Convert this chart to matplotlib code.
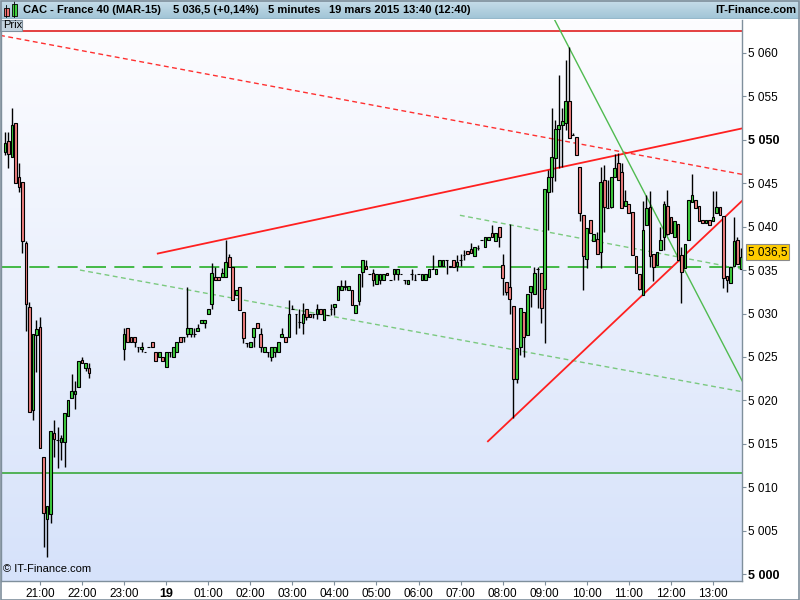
import numpy as np
import matplotlib.pyplot as plt
from matplotlib.patches import Rectangle
from matplotlib.transforms import blended_transform_factory

plt.rcParams['font.family'] = ['Liberation Sans', 'DejaVu Sans']

# --- 5 minute bars, evening session of 18 mars (20:10 -> 22:10)
s1_start = "18 20:10"
s1_open = [5048.6, 5049.8, 5048.0, 5051.9, 5045.7, 5045.1, 5038.1, 5030.7, 5018.9, 5027.5, 5028.5, 5013.5,
           5006.4, 5006.9, 5016.2, 5015.5, 5015.2, 5015.2, 5018.2, 5020.3, 5020.7, 5021.5, 5024.7, 5023.7, 5023.7]
s1_high = [5050.9, 5050.9, 5053.6, 5051.9, 5047.3, 5045.1, 5038.3, 5031.3, 5027.7, 5029.3, 5029.6, 5013.5,
           5007.9, 5016.5, 5017.7, 5017.0, 5016.0, 5018.5, 5020.1, 5023.0, 5022.2, 5024.5, 5025.0, 5024.3, 5024.3]
s1_low = [5048.2, 5046.7, 5048.0, 5045.0, 5044.0, 5037.0, 5028.0, 5018.7, 5017.7, 5023.3, 5014.5, 5003.1,
          5002.0, 5005.9, 5013.5, 5012.2, 5013.2, 5012.4, 5018.2, 5020.3, 5019.0, 5021.5, 5024.3, 5023.4, 5022.6]
s1_close = [5049.6, 5048.3, 5051.7, 5045.0, 5044.6, 5038.3, 5031.1, 5018.7, 5027.7, 5028.2, 5014.5, 5007.1,
            5007.9, 5016.5, 5015.6, 5015.5, 5015.7, 5018.5, 5020.1, 5021.1, 5021.1, 5024.5, 5024.3, 5024.3, 5023.1]

# --- 5 minute bars from 23:00 to 19 mars 13:40, one row per hour
s2_start = "18 23:00"
s2_open = [
    5025.9, 5028.3, 5027.3, 5027.3, 5026.1, 5025.9, 5025.6, 5026.1, 5026.7, 5025.6, 5025.0, 5025.0,
    5023.9, 5025.6, 5025.0, 5025.6, 5027.3, 5027.3, 5027.7, 5027.7, 5027.7, 5028.0, 5028.9, 5028.9,
    5029.9, 5031.1, 5034.2, 5034.2, 5034.2, 5034.2, 5036.5, 5035.3, 5032.1, 5033.1, 5030.2, 5026.6,
    5026.1, 5027.3, 5028.9, 5027.7, 5025.6, 5025.6, 5025.0, 5025.6, 5025.6, 5027.3, 5027.3, 5027.3,
    5030.5, 5029.9, 5029.0, 5028.9, 5030.5, 5029.9, 5029.9, 5029.9, 5030.5, 5029.3, 5029.8, 5030.5,
    5030.7, 5031.6, 5032.7, 5033.0, 5032.7, 5032.7, 5030.1, 5031.4, 5034.8, 5035.5, 5034.5, 5034.7,
    5033.4, 5033.9, 5033.9, 5034.7, 5033.9, 5034.5, 5034.5, 5034.5, 5033.9, 5033.4, 5034.5, 5033.9,
    5034.5, 5033.9, 5033.9, 5034.2, 5035.1, 5034.5, 5035.5, 5035.5, 5036.2, 5035.5, 5036.2, 5035.5,
    5036.2, 5036.7, 5037.2, 5037.4, 5036.6, 5037.5, 5038.4, 5037.7, 5038.4, 5039.3, 5038.3, 5039.9,
    5035.6, 5033.6, 5033.0, 5030.9, 5022.5, 5026.2, 5030.2, 5027.5, 5032.5, 5032.2, 5035.1, 5034.7,
    5032.8, 5044.0, 5045.7, 5047.9, 5051.2, 5051.7, 5051.9, 5054.4, 5050.5, 5050.3, 5046.8, 5041.3,
    5036.3, 5040.8, 5038.3, 5038.6, 5037.1, 5045.4, 5042.1, 5042.3, 5045.7, 5047.3, 5046.3, 5042.4,
    5042.6, 5041.7, 5036.6, 5034.6, 5032.1, 5040.2, 5042.3, 5036.9, 5035.6, 5037.3, 5038.8, 5042.4,
    5041.1, 5038.8, 5040.3, 5036.7, 5035.2, 5038.5, 5042.8, 5043.1, 5042.4, 5040.8, 5040.4, 5040.8,
    5040.6, 5041.6, 5042.3, 5041.2, 5034.3, 5033.5, 5035.5, 5038.5, 5035.1]
s2_high = [
    5028.3, 5028.3, 5027.3, 5027.3, 5026.1, 5026.7, 5025.6, 5026.1, 5026.7, 5025.6, 5025.6, 5025.0,
    5025.6, 5025.6, 5026.1, 5026.7, 5027.3, 5027.3, 5033.1, 5028.3, 5028.3, 5028.8, 5029.3, 5029.3,
    5030.5, 5035.8, 5035.3, 5034.2, 5035.2, 5038.5, 5036.9, 5035.3, 5032.7, 5033.1, 5030.2, 5026.6,
    5026.7, 5028.3, 5028.9, 5028.3, 5026.1, 5025.6, 5026.1, 5026.1, 5026.7, 5028.3, 5027.3, 5031.6,
    5031.0, 5029.9, 5030.5, 5031.2, 5030.5, 5029.9, 5029.9, 5031.1, 5030.5, 5030.5, 5029.8, 5031.1,
    5031.1, 5033.2, 5033.9, 5033.9, 5033.2, 5032.7, 5031.0, 5034.5, 5036.2, 5036.2, 5034.5, 5035.1,
    5034.5, 5034.5, 5034.5, 5034.7, 5033.9, 5035.1, 5035.1, 5034.5, 5033.9, 5033.9, 5035.1, 5034.5,
    5034.5, 5034.5, 5034.5, 5035.1, 5036.7, 5035.1, 5036.2, 5036.2, 5036.2, 5035.5, 5036.2, 5036.7,
    5036.9, 5037.3, 5037.2, 5038.1, 5037.7, 5037.9, 5038.4, 5038.8, 5038.8, 5040.2, 5039.3, 5039.9,
    5036.9, 5033.6, 5040.3, 5030.9, 5026.0, 5030.6, 5030.2, 5032.2, 5033.2, 5035.4, 5035.4, 5034.7,
    5044.3, 5046.5, 5053.6, 5052.3, 5057.4, 5053.6, 5059.2, 5060.7, 5050.8, 5050.3, 5046.8, 5041.3,
    5039.8, 5040.8, 5039.1, 5039.4, 5046.8, 5047.1, 5045.4, 5045.7, 5048.3, 5048.5, 5047.3, 5044.2,
    5042.6, 5041.7, 5036.6, 5034.6, 5043.0, 5043.6, 5044.1, 5036.9, 5037.1, 5040.0, 5042.9, 5044.2,
    5041.1, 5040.6, 5040.3, 5037.7, 5038.0, 5043.1, 5046.1, 5043.1, 5042.4, 5040.8, 5040.8, 5040.8,
    5044.1, 5044.1, 5042.3, 5041.2, 5034.3, 5035.4, 5041.1, 5038.8, 5037.5]
s2_low = [
    5024.7, 5026.7, 5026.7, 5026.2, 5025.6, 5025.6, 5025.6, 5026.1, 5026.1, 5024.5, 5025.0, 5024.5,
    5023.9, 5025.0, 5025.0, 5025.6, 5026.7, 5026.7, 5027.3, 5027.3, 5027.3, 5028.0, 5028.9, 5028.3,
    5029.9, 5030.5, 5033.8, 5033.8, 5034.2, 5034.2, 5035.3, 5031.6, 5032.1, 5030.4, 5026.6, 5026.1,
    5026.1, 5026.1, 5028.3, 5025.6, 5025.6, 5025.0, 5024.5, 5025.0, 5025.6, 5027.3, 5026.7, 5027.3,
    5030.5, 5027.7, 5028.3, 5027.7, 5029.3, 5029.6, 5029.5, 5029.4, 5030.0, 5029.3, 5029.8, 5029.8,
    5029.8, 5031.6, 5032.7, 5032.7, 5032.7, 5031.0, 5030.1, 5031.0, 5033.0, 5035.1, 5034.5, 5033.2,
    5033.4, 5033.4, 5033.9, 5034.4, 5033.9, 5033.9, 5033.9, 5034.5, 5033.4, 5033.4, 5033.9, 5033.9,
    5034.5, 5033.9, 5033.9, 5034.2, 5035.1, 5034.5, 5035.5, 5035.5, 5034.5, 5035.3, 5035.4, 5034.9,
    5035.5, 5036.1, 5036.9, 5037.0, 5036.6, 5037.3, 5038.4, 5037.7, 5038.4, 5038.8, 5038.3, 5037.7,
    5032.1, 5032.1, 5030.0, 5018.0, 5022.0, 5025.2, 5025.0, 5027.5, 5030.8, 5032.2, 5030.6, 5028.9,
    5026.6, 5039.6, 5044.0, 5045.2, 5046.7, 5046.9, 5051.1, 5050.2, 5050.5, 5048.2, 5040.6, 5032.7,
    5035.2, 5039.3, 5038.3, 5036.9, 5035.2, 5039.4, 5042.1, 5042.1, 5045.7, 5045.4, 5042.1, 5042.4,
    5041.6, 5036.7, 5034.7, 5032.7, 5032.1, 5040.2, 5035.4, 5033.7, 5035.6, 5037.3, 5037.3, 5039.0,
    5039.3, 5038.8, 5036.2, 5031.2, 5035.2, 5038.5, 5042.8, 5042.1, 5040.6, 5040.4, 5040.4, 5040.2,
    5040.6, 5041.6, 5041.3, 5032.9, 5032.5, 5033.5, 5035.5, 5035.7, 5035.1]
s2_close = [
    5027.7, 5026.7, 5026.7, 5026.7, 5026.1, 5026.1, 5025.6, 5026.1, 5026.1, 5024.5, 5025.6, 5024.5,
    5025.6, 5025.6, 5026.1, 5026.7, 5026.7, 5027.3, 5028.3, 5028.3, 5027.7, 5028.3, 5029.3, 5029.3,
    5030.5, 5034.7, 5033.8, 5033.8, 5034.7, 5035.9, 5035.3, 5031.6, 5032.7, 5030.4, 5027.2, 5026.6,
    5026.7, 5028.3, 5028.3, 5026.1, 5026.1, 5025.6, 5026.1, 5026.1, 5026.7, 5027.7, 5026.7, 5029.9,
    5030.5, 5029.9, 5029.0, 5029.9, 5029.6, 5029.6, 5029.9, 5030.5, 5030.0, 5030.5, 5029.8, 5030.5,
    5031.1, 5033.2, 5033.2, 5033.2, 5033.2, 5031.0, 5031.0, 5034.5, 5036.2, 5035.1, 5034.5, 5033.9,
    5034.5, 5034.5, 5034.5, 5034.4, 5033.9, 5035.1, 5035.1, 5034.5, 5033.9, 5033.9, 5034.5, 5033.9,
    5034.5, 5034.5, 5034.5, 5035.1, 5035.1, 5035.1, 5036.2, 5036.2, 5036.2, 5035.3, 5035.4, 5035.9,
    5036.2, 5036.7, 5036.9, 5037.0, 5037.7, 5037.5, 5038.4, 5038.8, 5038.8, 5038.8, 5039.3, 5038.8,
    5034.1, 5032.5, 5031.7, 5022.5, 5026.0, 5030.6, 5027.3, 5032.2, 5033.2, 5034.7, 5035.1, 5030.6,
    5044.3, 5045.7, 5048.0, 5051.2, 5051.7, 5052.2, 5054.4, 5050.2, 5050.5, 5048.2, 5041.6, 5036.6,
    5039.8, 5039.3, 5039.1, 5036.9, 5045.1, 5042.3, 5042.1, 5045.7, 5046.7, 5045.4, 5042.1, 5042.9,
    5041.6, 5036.7, 5034.7, 5032.8, 5039.6, 5042.1, 5036.6, 5035.4, 5037.1, 5038.5, 5042.6, 5039.2,
    5039.3, 5040.6, 5036.2, 5034.8, 5038.0, 5043.1, 5043.6, 5042.1, 5040.6, 5040.4, 5040.8, 5040.2,
    5041.1, 5042.3, 5041.3, 5034.1, 5033.8, 5035.4, 5038.3, 5035.7, 5036.5]

# drawn objects: (start, price, end, price)
red_dash_line = ("18 20:03", 5062.0, "19 13:42", 5046.0)
red_upper_line = ("18 23:48", 5036.9, "19 13:42", 5051.3)
red_lower_line = ("19 07:39", 5015.3, "19 13:42", 5043.0)
green_steep_line = ("19 09:14", 5063.8, "19 13:42", 5022.2)
green_dash_upper = ("19 06:59", 5041.3, "19 13:42", 5035.1)
green_dash_lower = ("18 21:57", 5035.0, "19 13:42", 5021.0)
green_level = 5035.3
green_support = 5011.7
red_top_level = 5062.5
last_price = "5 036,5"
last_value = 5036.5

hour_labels = ["21:00", "22:00", "23:00", "19", "01:00", "02:00", "03:00", "04:00", "05:00",
               "06:00", "07:00", "08:00", "09:00", "10:00", "11:00", "12:00", "13:00"]
price_ticks = [5000, 5005, 5010, 5015, 5020, 5025, 5030, 5035, 5040, 5045, 5050, 5055, 5060]


def hrs(stamp):
    d, hm = stamp.split()
    hh, mm = hm.split(':')
    return (int(d) - 18) * 24 + int(hh) - 21 + int(mm) / 60


opens = np.array(s1_open + s2_open)
highs = np.array(s1_high + s2_high)
lows = np.array(s1_low + s2_low)
closes = np.array(s1_close + s2_close)
times = np.concatenate([hrs(s1_start) + np.arange(len(s1_open)) / 12,
                        hrs(s2_start) + np.arange(len(s2_open)) / 12])

W, H = 800, 600
fig = plt.figure(figsize=(8, 6), dpi=100)
fig.patch.set_facecolor('white')

# header band
hdr = fig.add_axes([0, 1 - 19 / H, 1, 19 / H])
grad = np.linspace(0, 1, 50).reshape(-1, 1)
top_c = np.array([200, 222, 234]) / 255
bot_c = np.array([160, 196, 214]) / 255
hdr.imshow(top_c + (bot_c - top_c) * grad[:, :, None], aspect='auto', extent=[0, 1, 0, 1])
hdr.set_xlim(0, 1)
hdr.set_ylim(0, 1)
hdr.axis('off')
hdr.axhline(0.02, color='#6f8a9a', lw=1)
# little candle icon
hdr.plot([6 / W, 6 / W], [0.1, 0.72], color='black', lw=0.6)
hdr.add_patch(Rectangle((3.5 / W, 0.18), 5 / W, 0.4, fc='#f07070', ec='black', lw=0.6))
hdr.plot([14 / W, 14 / W], [0.1, 0.95], color='black', lw=0.6)
hdr.add_patch(Rectangle((11.5 / W, 0.18), 5 / W, 0.62, fc='#40d040', ec='black', lw=0.6))
for xpix, txt in [(23, "CAC - France 40 (MAR-15)"), (173, "5 036,5 (+0,14%)"),
                  (268, "5 minutes"), (329, "19 mars 2015"), (403, "13:40 (12:40)")]:
    hdr.text(xpix / W, 0.45, txt, fontsize=8, fontweight='bold', va='center', ha='left')
hdr.text(796 / W, 0.45, "IT-Finance.com", fontsize=8, fontweight='bold', va='center', ha='right')

# main chart area
x_left, x_right, y_top, y_bot = 1, 742, 20, 581
ax = fig.add_axes([x_left / W, 1 - y_bot / H, (x_right - x_left) / W, (y_bot - y_top) / H])
px_per_h = 42.06
px_per_pt = 8.693
xmin = (x_left - 40) / px_per_h
xmax = (x_right - 40) / px_per_h
ymax = 5000 + (574.3 - y_top) / px_per_pt
ymin = 5000 + (574.3 - y_bot) / px_per_pt
ax.set_xlim(xmin, xmax)
ax.set_ylim(ymin, ymax)

bg_top = np.array([253, 253, 255]) / 255
bg_bot = np.array([214, 226, 250]) / 255
g = np.linspace(0, 1, 200).reshape(-1, 1)
ax.imshow(bg_top + (bg_bot - bg_top) * g[:, :, None], aspect='auto',
          extent=[xmin, xmax, ymin, ymax], zorder=0)

# horizontal levels
ax.axhline(red_top_level, xmin=21 / (x_right - x_left), color='#e02020', lw=1.2, zorder=2)
ax.axhline(green_support, color='#3aa83a', lw=1.2, zorder=2)
ax.axhline(green_level, color='#28b028', lw=1.2, dashes=(12, 5), zorder=2)


def seg(line, **kw):
    t0, p0, t1, p1 = line
    ax.plot([hrs(t0), hrs(t1)], [p0, p1], zorder=2, **kw)


seg(red_dash_line, color='#ff3030', lw=1, dashes=(3.5, 2.5))
seg(green_dash_upper, color='#60c060', lw=1, dashes=(3.5, 2.5), alpha=0.8)
seg(green_dash_lower, color='#60c060', lw=1, dashes=(3.5, 2.5), alpha=0.8)
seg(red_upper_line, color='#ff2020', lw=1.3)
seg(red_lower_line, color='#ff2020', lw=1.3)
seg(green_steep_line, color='#50bb50', lw=1)

# candles
up = closes >= opens
ax.vlines(times, lows, highs, color='black', lw=1, zorder=3)
ax.bar(times, np.abs(closes - opens), bottom=np.minimum(opens, closes), width=0.064,
       color=np.where(up, '#3fd03f', '#f08080'), edgecolor='black', linewidth=0.8, zorder=4)

ax.text(2 / (x_right - x_left), 0.012, "\u00a9 IT-Finance.com", transform=ax.transAxes,
        fontsize=8, va='bottom', ha='left', zorder=5)

# axes styling
ax.spines['top'].set_visible(False)
for side in ['left', 'right', 'bottom']:
    ax.spines[side].set_color('#7f8f9c')
    ax.spines[side].set_linewidth(1)

ax.set_xticks(np.arange(len(hour_labels)))
ax.set_xticklabels(hour_labels)
for lab in ax.get_xticklabels():
    lab.set_fontsize(8.5)
    if lab.get_text() == "19":
        lab.set_fontweight('bold')
        lab.set_fontsize(9)
ax.tick_params(axis='x', length=3, width=0.8, color='#7f8f9c', pad=2)

ax.yaxis.tick_right()
ax.set_yticks(price_ticks)
ax.set_yticklabels([f"{v // 1000} {v % 1000:03d}" for v in price_ticks])
for lab, v in zip(ax.get_yticklabels(), price_ticks):
    lab.set_fontsize(8.5)
    if v % 50 == 0:
        lab.set_fontweight('bold')
        lab.set_fontsize(9)
ax.tick_params(axis='y', length=3, width=0.8, color='#7f8f9c', pad=1.5)

# last price tag
trans = blended_transform_factory(ax.transAxes, ax.transData)
ax.text(1 + 6 / (x_right - x_left), last_value + 0.55, last_price, transform=trans, fontsize=8.5,
        va='center', ha='left', clip_on=False, zorder=6,
        bbox=dict(boxstyle='square,pad=0.15', fc='#ffcc00', ec='#8a8a8a', lw=0.8))

# "Prix" box
fig.patches.append(Rectangle((0, 1 - 31 / H), 22 / W, 11 / H, transform=fig.transFigure,
                             fc='#c4d4e0', ec='#7f8f9c', lw=0.8, zorder=5))
fig.text(3 / W, 1 - 25.5 / H, "Prix", fontsize=8, va='center', ha='left', zorder=6)

# outer frame
fig.patches.append(Rectangle((0.5 / W, 0.5 / H), 1 - 1.5 / W, 1 - 1.5 / H, transform=fig.transFigure,
                             fc='none', ec='#7f8f9c', lw=1.2, zorder=10))

fig.savefig('out.png', dpi=100)
